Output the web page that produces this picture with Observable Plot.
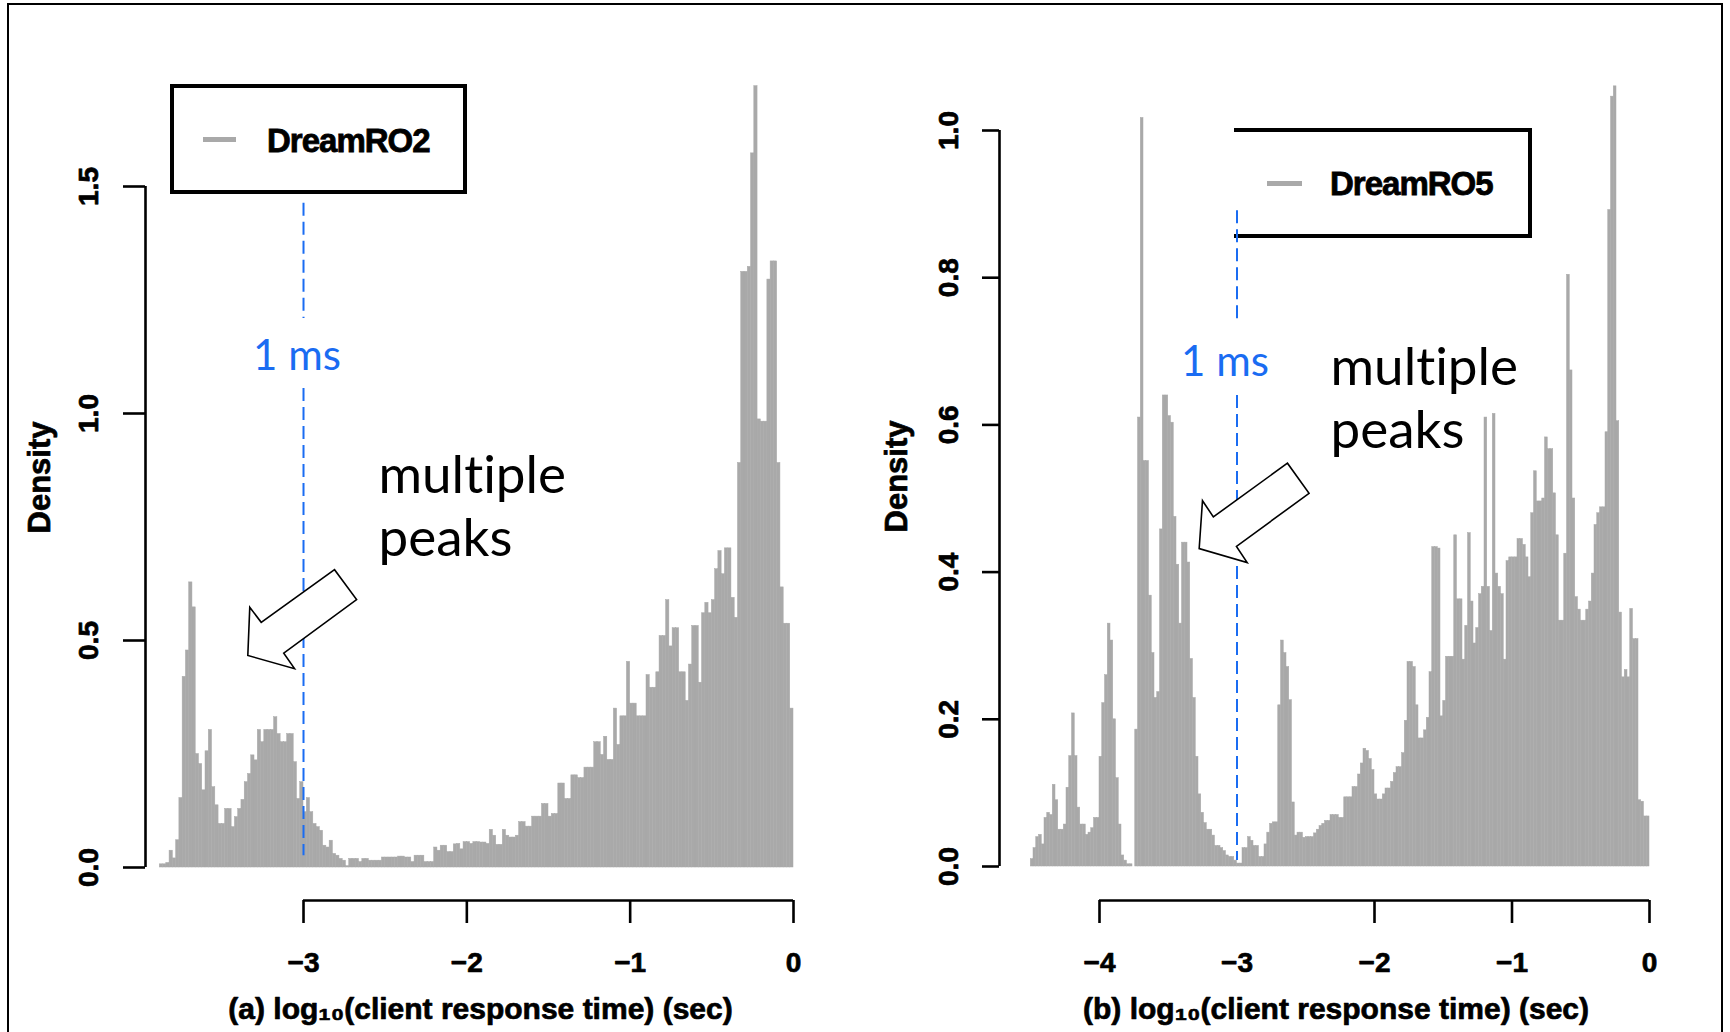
<!DOCTYPE html>
<html>
<head>
<meta charset="utf-8">
<script src="https://cdn.jsdelivr.net/npm/d3@7"></script>
<script src="https://cdn.jsdelivr.net/npm/@observablehq/plot@0.6"></script>
<style>
html, body { margin: 0; padding: 0; background: #fff; overflow: hidden; }
#wrap { position: relative; width: 1730px; height: 1032px; overflow: hidden; background: #fff; }
#wrap svg { position: absolute; left: 0; top: 0; }
#wrap svg text { font-variant-ligatures: none; }
.frame { position: absolute; left: 7px; top: 3px; width: 1716px; height: 1100px; border: 2px solid #000; box-sizing: border-box; }
.legend { position: absolute; border: 4px solid #000; box-sizing: border-box; }
.lg-line { position: absolute; height: 5px; background: #a9a9a9; }
.lg-text { position: absolute; font: bold 33px "Liberation Sans", Arial, Helvetica, sans-serif; letter-spacing: -1px; line-height: 1; white-space: nowrap; color: #000; -webkit-text-stroke: 0.8px #000; }
</style>
</head>
<body>
<div id="wrap">
  <div class="frame"></div>
  <div class="legend" style="left:170px;top:84px;width:297px;height:110px;"></div>
  <div class="lg-line" style="left:203px;top:136.5px;width:33px;"></div>
  <div class="lg-text" id="legA" style="left:267px;top:124px;"></div>
  <div class="legend" style="left:1234px;top:128px;width:298px;height:110px;border-left:none;"></div>
  <div class="lg-line" style="left:1267px;top:180.5px;width:35px;"></div>
  <div class="lg-text" id="legB" style="left:1330px;top:167px;"></div>
</div>
<script>
// ---------------- data ----------------
const binWidth = 0.02;

// panel (a): DreamRO2, bins start at -3.88
const aStart = -3.88;
const aDensity = [
  0.007, 0.007, 0.010, 0.037, 0.020, 0.060, 0.153, 0.420, 0.478, 0.628,
  0.573, 0.250, 0.228, 0.170, 0.256, 0.303, 0.177, 0.137, 0.096, 0.096,
  0.129, 0.129, 0.089, 0.111, 0.129, 0.149, 0.188, 0.206, 0.247, 0.236,
  0.303, 0.276, 0.303, 0.303, 0.303, 0.331, 0.294, 0.276, 0.276, 0.294,
  0.294, 0.232, 0.151, 0.188, 0.122, 0.153, 0.122, 0.096, 0.089, 0.081,
  0.048, 0.044, 0.059, 0.030, 0.026, 0.019, 0.015, 0.003, 0.019, 0.019,
  0.019, 0.012, 0.019, 0.019, 0.015, 0.015, 0.015, 0.015, 0.022, 0.022,
  0.022, 0.022, 0.022, 0.024, 0.024, 0.022, 0.022, 0.012, 0.026, 0.026,
  0.026, 0.012, 0.012, 0.012, 0.044, 0.037, 0.048, 0.048, 0.034, 0.034,
  0.051, 0.052, 0.040, 0.056, 0.056, 0.052, 0.056, 0.056, 0.055, 0.055,
  0.052, 0.083, 0.070, 0.050, 0.050, 0.083, 0.070, 0.066, 0.066, 0.070,
  0.100, 0.100, 0.090, 0.090, 0.112, 0.112, 0.112, 0.140, 0.140, 0.112,
  0.118, 0.118, 0.185, 0.185, 0.151, 0.151, 0.203, 0.203, 0.197, 0.197,
  0.220, 0.220, 0.220, 0.276, 0.276, 0.248, 0.288, 0.237, 0.237, 0.350,
  0.270, 0.333, 0.333, 0.453, 0.361, 0.361, 0.333, 0.333, 0.333, 0.424,
  0.396, 0.396, 0.430, 0.510, 0.510, 0.589, 0.487, 0.527, 0.527, 0.430,
  0.430, 0.367, 0.447, 0.532, 0.532, 0.407, 0.560, 0.583, 0.560, 0.589,
  0.657, 0.697, 0.646, 0.703, 0.703, 0.594, 0.550, 0.891, 1.312, 1.312,
  1.323, 1.573, 1.721, 0.987, 0.982, 0.982, 1.295, 1.335, 1.335, 0.891,
  0.617, 0.537, 0.537, 0.350
];

// panel (b): DreamRO5, bins start at -4.50
const bStart = -4.50;
const bDensity = [
  0.010, 0.025, 0.040, 0.043, 0.030, 0.066, 0.073, 0.070, 0.111, 0.090,
  0.050, 0.050, 0.057, 0.107, 0.150, 0.208, 0.150, 0.080, 0.057, 0.057,
  0.043, 0.046, 0.052, 0.066, 0.066, 0.149, 0.222, 0.260, 0.330, 0.307,
  0.200, 0.120, 0.057, 0.015, 0.008, 0.003, 0.003, 0.000, 0.186, 0.610,
  1.017, 0.551, 0.551, 0.368, 0.290, 0.229, 0.237, 0.458, 0.640, 0.640,
  0.612, 0.603, 0.475, 0.410, 0.330, 0.440, 0.440, 0.413, 0.282, 0.229,
  0.149, 0.098, 0.073, 0.059, 0.050, 0.050, 0.042, 0.028, 0.028, 0.025,
  0.021, 0.015, 0.013, 0.013, 0.008, 0.004, 0.004, 0.025, 0.025, 0.040,
  0.035, 0.028, 0.028, 0.013, 0.013, 0.030, 0.046, 0.058, 0.060, 0.060,
  0.219, 0.307, 0.290, 0.271, 0.226, 0.087, 0.042, 0.046, 0.046, 0.039,
  0.040, 0.040, 0.040, 0.045, 0.050, 0.055, 0.058, 0.062, 0.062, 0.070,
  0.070, 0.070, 0.066, 0.066, 0.094, 0.094, 0.094, 0.108, 0.108, 0.125,
  0.140, 0.160, 0.157, 0.146, 0.131, 0.098, 0.091, 0.091, 0.098, 0.106,
  0.106, 0.115, 0.127, 0.135, 0.135, 0.154, 0.198, 0.278, 0.278, 0.271,
  0.219, 0.174, 0.174, 0.185, 0.202, 0.264, 0.434, 0.434, 0.432, 0.204,
  0.225, 0.285, 0.285, 0.285, 0.450, 0.363, 0.363, 0.281, 0.327, 0.453,
  0.360, 0.303, 0.324, 0.370, 0.380, 0.610, 0.380, 0.320, 0.615, 0.398,
  0.380, 0.370, 0.281, 0.415, 0.420, 0.420, 0.420, 0.445, 0.445, 0.437,
  0.420, 0.393, 0.480, 0.537, 0.496, 0.496, 0.500, 0.583, 0.567, 0.567,
  0.507, 0.450, 0.334, 0.334, 0.425, 0.804, 0.674, 0.500, 0.366, 0.349,
  0.334, 0.334, 0.349, 0.360, 0.398, 0.464, 0.480, 0.488, 0.488, 0.590,
  0.892, 1.046, 1.060, 0.605, 0.345, 0.257, 0.267, 0.257, 0.350, 0.309,
  0.309, 0.090, 0.088, 0.068, 0.068
];

// axes
const aYTicks = [0, 0.5, 1.0, 1.5];
const aXTicks = [-3, -2, -1, 0];
const aXLabels = [-3, -2, -1, 0];
const bYTicks = [0, 0.2, 0.4, 0.6, 0.8, 1.0];
const bXTicks = [-4, -2, -1, 0];
const bXLabels = [-4, -3, -2, -1, 0];

// texts
const aTitle = "(a) log\u2081\u2080(client response time) (sec)";
const bTitle = "(b) log\u2081\u2080(client response time) (sec)";
const yTitle = "Density";
const aSeries = "DreamRO2";
const bSeries = "DreamRO5";
const msLabel = "1 ms";
const peaksLabel = "multiple\npeaks";

// annotations (data coordinates)
const msLine = -3;
const aMsSegments = [{y1: 1.463, y2: 1.209}, {y1: 1.055, y2: 0.026}];
const bMsSegments = [{y1: 0.891, y2: 0.738}, {y1: 0.640, y2: 0.008}];
const aMsText = {x: -3, y: 1.095};
const bMsText = {x: -3, y: 0.667};
const aPeaksText = {x: -2.541, y: 0.687};
const bPeaksText = {x: -2.320, y: 0.568};
const aArrow = [[-3.341, 0.467], [-3.329, 0.573], [-3.259, 0.540], [-2.810, 0.656], [-2.675, 0.590], [-3.121, 0.472], [-3.055, 0.438]];
const bArrow = [[-3.275, 0.432], [-3.251, 0.497], [-3.172, 0.475], [-2.633, 0.548], [-2.476, 0.507], [-3.004, 0.435], [-2.926, 0.413]];

// ---------------- style ----------------
const GRAY = "#a9a9a9";
const BLUE = "#1a6cf2";
const RFONT = "'Liberation Sans', Arial, Helvetica, sans-serif";
const SFONT = "Lato, 'Open Sans', sans-serif";

document.getElementById("legA").textContent = aSeries;
document.getElementById("legB").textContent = bSeries;

const fmtX = d => d < 0 ? "\u2212" + Math.abs(d) : String(d);
const fmtY = d => d.toFixed(1);
const bold = {fontWeight: "bold", fontFamily: RFONT, fill: "#000", stroke: "#000", strokeWidth: 0.7};

function panel(o) {
  const L = o.layout;
  const xDom = [(L.left - L.x0) / L.xUnit, (L.right - L.x0) / L.xUnit];
  const yDom = [(L.y0 - L.bottom) / L.yUnit, (L.y0 - L.top) / L.yUnit];
  const xLo = xDom[0];
  const bins = o.density.map((d, i) => ({
    x1: o.start + i * binWidth,
    x2: o.start + (i + 1) * binWidth,
    y: d
  }));
  const segs = o.msSegments.map(s => ({x: msLine, y1: s.y1, y2: s.y2}));
  const arrow = o.arrow.map(([x, y]) => ({x, y}));
  return Plot.plot({
    width: 1730,
    height: 1032,
    marginLeft: L.left,
    marginRight: 1730 - L.right,
    marginTop: L.top,
    marginBottom: 1032 - L.bottom,
    style: {background: "transparent", overflow: "visible"},
    x: {domain: xDom, axis: null},
    y: {domain: yDom, axis: null},
    marks: [
      Plot.rectY(bins, {x1: "x1", x2: "x2", y: "y", fill: GRAY, stroke: GRAY, strokeWidth: 0.5}),
      // y axis
      Plot.ruleX([xLo], {y1: o.yTicks[0], y2: o.yTicks[o.yTicks.length - 1], strokeWidth: 2.6, stroke: "#000"}),
      Plot.ruleY(o.yTicks, {x1: xLo, x2: xLo, insetLeft: -L.yTick, strokeWidth: 2.6, stroke: "#000"}),
      Plot.text(o.yTicks, {x: xLo, y: d => d, text: fmtY, rotate: -90, dx: L.yLabDx, fontSize: 28, ...bold, lineAnchor: "middle", textAnchor: "middle"}),
      Plot.text([yTitle], {frameAnchor: "left", dx: L.yTitleDx, rotate: -90, fontSize: 31, ...bold, lineAnchor: "middle", textAnchor: "middle"}),
      // x axis
      Plot.ruleY([0], {x1: o.xTicks[0], x2: o.xTicks[o.xTicks.length - 1], dy: L.axisDy, strokeWidth: 2.6, stroke: "#000"}),
      Plot.ruleX(o.xTicks, {y1: 0, y2: 0, insetTop: L.axisDy, insetBottom: -(L.axisDy + 23), strokeWidth: 2.6, stroke: "#000"}),
      Plot.text(o.xLabels, {x: d => d, y: 0, text: fmtX, dy: L.xLabDy, fontSize: 28, ...bold, lineAnchor: "middle"}),
      Plot.text([o.title], {frameAnchor: "bottom", dy: L.titleDy, fontSize: 30, ...bold, lineAnchor: "bottom", textAnchor: "middle"}),
      // 1 ms reference
      Plot.ruleX(segs, {x: "x", y1: "y1", y2: "y2", stroke: BLUE, strokeWidth: 2, strokeDasharray: "13,6"}),
      Plot.text([o.msText], {x: "x", y: "y", text: () => msLabel, dx: L.msDx, fontSize: 42, fontFamily: SFONT, fill: BLUE, lineAnchor: "bottom"}),
      // annotation
      Plot.line(arrow, {x: "x", y: "y", curve: "linear-closed", stroke: "#000", fill: "white", strokeWidth: 1.6, strokeLinejoin: "miter", strokeMiterlimit: 10}),
      Plot.text([o.peaksText], {x: "x", y: "y", text: () => peaksLabel, fontSize: 53, fontFamily: SFONT, fill: "#000", textAnchor: "start", lineAnchor: "bottom", lineHeight: 1.19})
    ]
  });
}

const wrap = document.getElementById("wrap");
wrap.appendChild(panel({
  layout: {left: 145, right: 815, top: 56, bottom: 898, x0: 793, xUnit: 163.33, y0: 867, yUnit: 454,
           yTick: 22, yLabDx: -56.5, yTitleDx: -105, axisDy: 33, xLabDy: 96, titleDy: 120, msDx: -6.5},
  start: aStart, density: aDensity, yTicks: aYTicks, xTicks: aXTicks, xLabels: aXLabels,
  title: aTitle, msSegments: aMsSegments, msText: aMsText, peaksText: aPeaksText, arrow: aArrow
}));
wrap.appendChild(panel({
  layout: {left: 999, right: 1672, top: 55, bottom: 897, x0: 1649, xUnit: 137.5, y0: 866, yUnit: 736,
           yTick: 17, yLabDx: -50.5, yTitleDx: -102, axisDy: 34, xLabDy: 97, titleDy: 121, msDx: -12},
  start: bStart, density: bDensity, yTicks: bYTicks, xTicks: bXTicks, xLabels: bXLabels,
  title: bTitle, msSegments: bMsSegments, msText: bMsText, peaksText: bPeaksText, arrow: bArrow
}));
</script>
</body>
</html>
